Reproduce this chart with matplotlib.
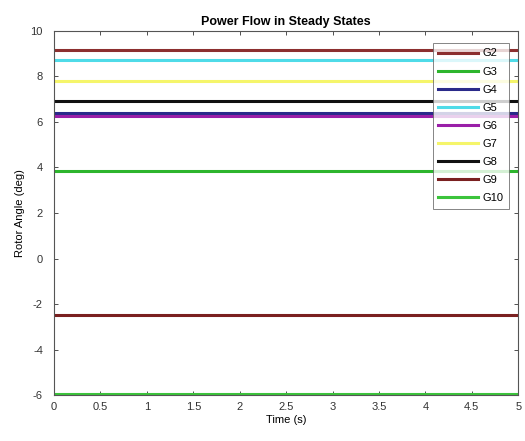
import numpy as np
import matplotlib
matplotlib.use("Agg")
import matplotlib.pyplot as plt

plt.rcParams['font.family'] = ['Liberation Sans', 'DejaVu Sans']
plt.rcParams['axes.unicode_minus'] = False

# rotor angles (deg) held constant over the run
generators = ['G2', 'G3', 'G4', 'G5', 'G6', 'G7', 'G8', 'G9', 'G10']
angles = [9.17, 3.85, 6.40, 8.70, 6.27, 7.80, 6.93, -2.48, -5.95]
colors = ['#8c2f2f', '#2db52d', '#2a2a8a', '#4fdbe8', '#9a1fa8',
          '#f5f56a', '#111111', '#7a2020', '#3cc43c']
t = np.array([0.0, 5.0])

fig = plt.figure(figsize=(5.25, 4.41), dpi=100)
ax = fig.add_axes([0.103, 0.104, 0.884, 0.826])

for name, a, c in zip(generators, angles, colors):
    ax.plot(t, [a, a], color=c, lw=2.2, label=name)

ax.set_xlim(0, 5)
ax.set_ylim(-6, 10)
ax.set_xticks(np.arange(0, 5.01, 0.5))
ax.set_xticklabels(['0', '0.5', '1', '1.5', '2', '2.5', '3', '3.5', '4', '4.5', '5'])
ax.set_yticks(np.arange(-6, 11, 2))
ax.tick_params(direction='in', top=True, right=True, labelsize=8,
               colors='#333333', length=3, width=0.6)
ax.tick_params(axis='y', pad=8)
ax.tick_params(axis='x', pad=5)
for s in ax.spines.values():
    s.set_color('#555555')
    s.set_linewidth(0.8)

ax.set_title('Power Flow in Steady States', fontsize=9, fontweight='bold', pad=4)
ax.set_xlabel('Time (s)', fontsize=8, labelpad=2)
ax.set_ylabel('Rotor Angle (deg)', fontsize=8, labelpad=4)

leg = ax.legend(loc='upper right', fontsize=8, frameon=True, fancybox=False,
                edgecolor='#666666', handlelength=3.6, labelspacing=0.73,
                borderaxespad=0.0, bbox_to_anchor=(0.981, 0.967),
                handletextpad=0.4, borderpad=0.5)
leg.get_frame().set_linewidth(0.7)

fig.savefig('out.png', dpi=100)
